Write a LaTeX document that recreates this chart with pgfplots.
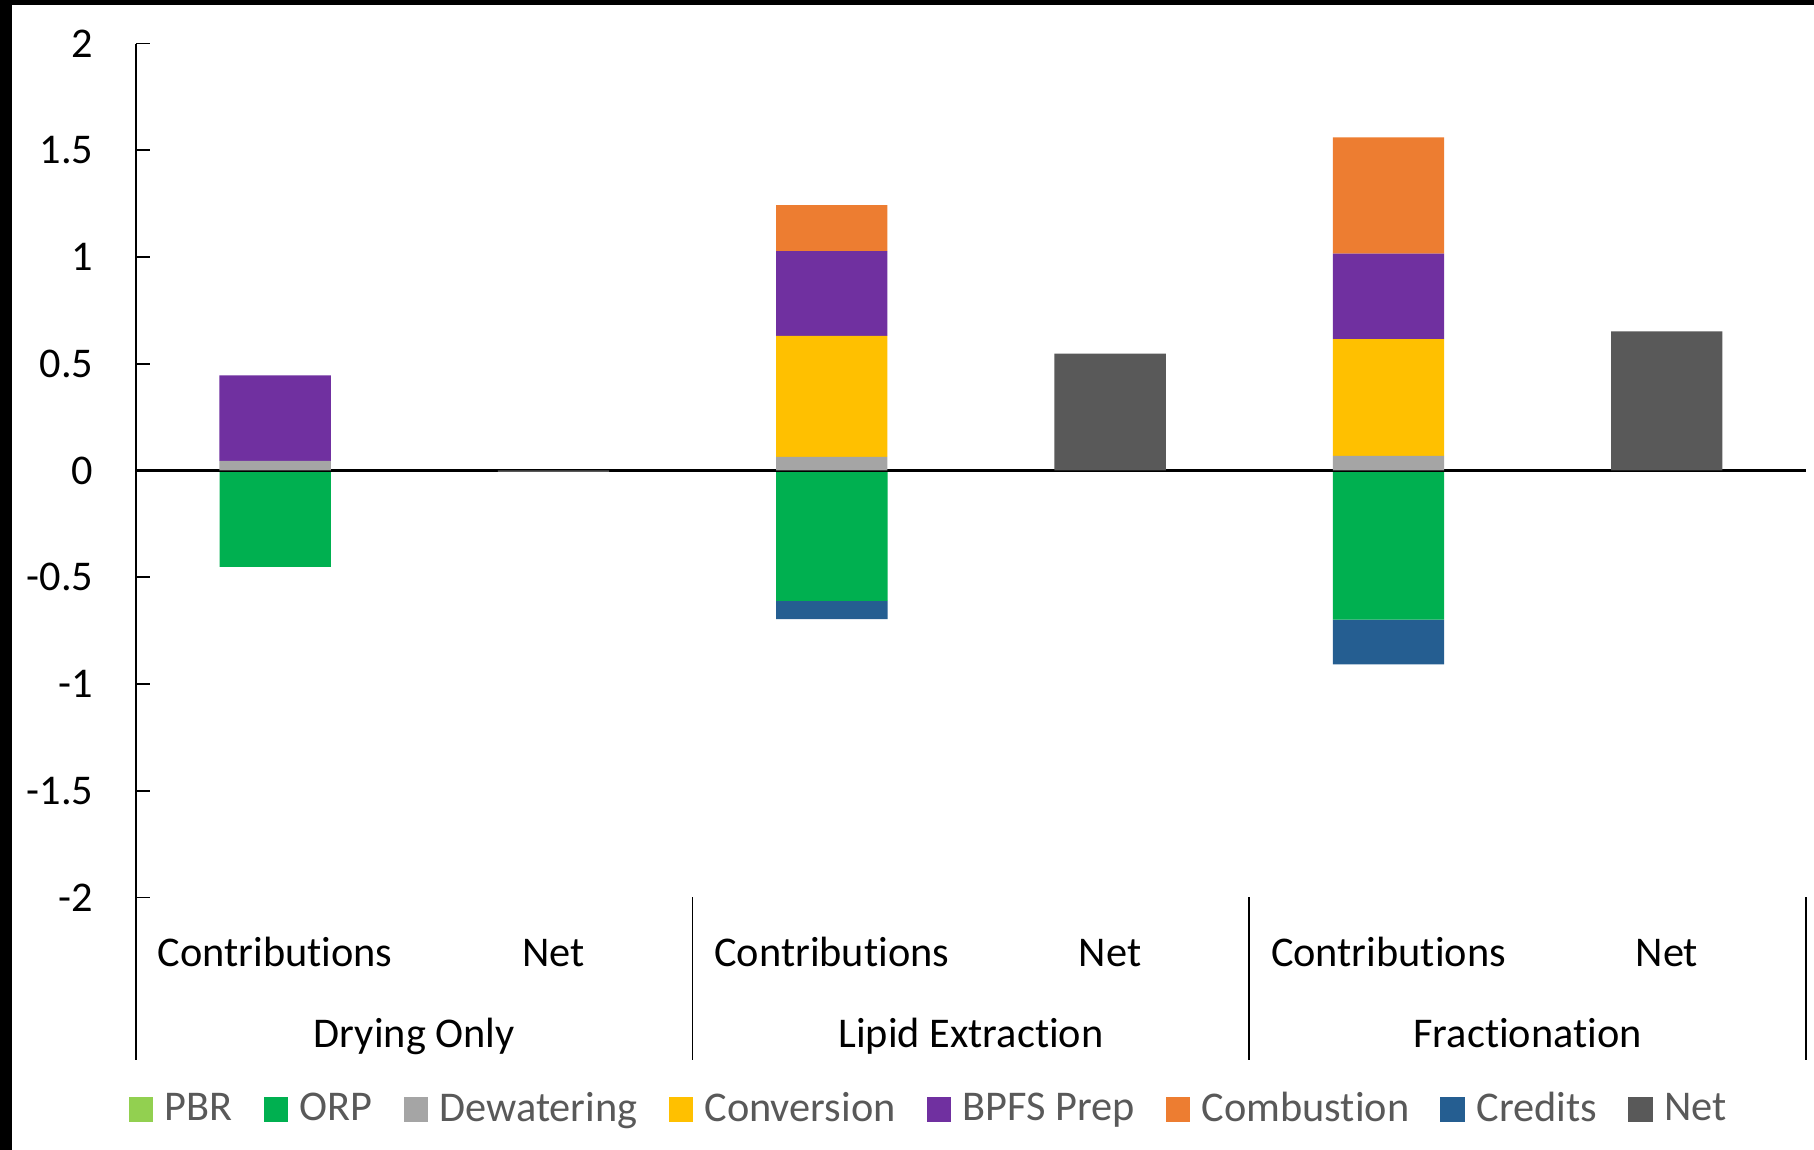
\documentclass[border=0pt]{standalone}
\usepackage{fontspec}
\setmainfont{Carlito}[Ligatures=NoCommon]
\usepackage{pgfplots}
\pgfplotsset{compat=1.18}

\definecolor{cPBR}{HTML}{92D050}
\definecolor{cORP}{HTML}{00B050}
\definecolor{cDew}{HTML}{A5A5A5}
\definecolor{cConv}{HTML}{FFC000}
\definecolor{cBPFS}{HTML}{7030A0}
\definecolor{cComb}{HTML}{ED7D31}
\definecolor{cCred}{HTML}{255E91}
\definecolor{cNet}{HTML}{595959}
\definecolor{legtext}{HTML}{595959}

\newcommand{\lbl}{\fontsize{12.7}{15}\selectfont}

% positions: 0/1 Drying Only, 2/3 Lipid Extraction, 4/5 Fractionation
% (contributions, net)
\pgfplotstableread{
x  Net    Dew   Conv  BPFS  Comb  ORP    Cred
0  0      0.045 0     0.400 0     -0.452 0
1  -0.006 0     0     0     0     0      0
2  0      0.064 0.566 0.397 0.216 -0.611 -0.085
3  0.547  0     0     0     0     0      0
4  0      0.069 0.546 0.401 0.544 -0.698 -0.210
5  0.652  0     0     0     0     0      0
}\gwp

\pgfplotsset{
  base/.style={
    scale only axis, width=501pt, height=256.2pt,
    at={(40.8pt,75.75pt)}, anchor=south west,
    xmin=-0.5, xmax=5.5, ymin=-2, ymax=2,
    clip=false,
  },
  bars/.style={base, ybar stacked, bar width=0.4},
}
\tikzset{cat/.style={anchor=base, font=\lbl, inner sep=0pt}}

\begin{document}
\begin{tikzpicture}
\useasboundingbox (0,0) rectangle (544.2pt,345pt);
\fill[white] (0,0) rectangle (544.2pt,345pt);
\fill[black] (0,0) rectangle (3.6pt,345pt);
\fill[black] (0,343.6pt) rectangle (544.2pt,345pt);

% negative contributions, stacked downward from zero
\begin{axis}[bars, hide axis]
  \addplot[fill=cORP, draw=none] table[x=x, y=ORP] {\gwp};
  \addplot[fill=cCred, draw=none] table[x=x, y=Cred] {\gwp};
\end{axis}

% positive contributions and net bars, with the axes
\begin{axis}[bars,
  axis x line=none,
  axis y line=left,
  y axis line style={-, line width=0.5pt},
  ytick={-2,-1.5,...,2},
  yticklabels={-2,-1.5,-1,-0.5,0,0.5,1,1.5,2},
  tick align=inside,
  major tick length=4.2pt,
  ytick style={line width=0.5pt, black},
  yticklabel style={font=\lbl, anchor=east, inner sep=0pt, xshift=-12.6pt},
]
  \addplot[fill=cNet, draw=none] table[x=x, y=Net] {\gwp};
  \addplot[fill=cDew, draw=none] table[x=x, y=Dew] {\gwp};
  \addplot[fill=cConv, draw=none] table[x=x, y=Conv] {\gwp};
  \addplot[fill=cBPFS, draw=none] table[x=x, y=BPFS] {\gwp};
  \addplot[fill=cComb, draw=none] table[x=x, y=Comb] {\gwp};

  \draw[line width=0.7pt] (axis cs:-0.5,0) -- (axis cs:5.5,0);
  \draw[line width=0.5pt] (axis cs:-0.5,-2) -- (axis cs:-0.5,-2.76);
  \draw[line width=0.5pt] (axis cs:1.5,-2) -- (axis cs:1.5,-2.76);
  \draw[line width=0.5pt] (axis cs:3.5,-2) -- (axis cs:3.5,-2.76);
  \draw[line width=0.5pt] (axis cs:5.5,-2) -- (axis cs:5.5,-2.76);

  \node[cat] at (axis cs:0,-2.322) {Contributions};
  \node[cat] at (axis cs:1,-2.322) {Net};
  \node[cat] at (axis cs:2,-2.322) {Contributions};
  \node[cat] at (axis cs:3,-2.322) {Net};
  \node[cat] at (axis cs:4,-2.322) {Contributions};
  \node[cat] at (axis cs:5,-2.322) {Net};
  \node[cat] at (axis cs:0.5,-2.704) {Drying Only};
  \node[cat] at (axis cs:2.5,-2.704) {Lipid Extraction};
  \node[cat] at (axis cs:4.5,-2.704) {Fractionation};
\end{axis}

% legend
\begin{axis}[base, hide axis,
  legend columns=-1,
  legend style={at={(0.476,-0.2484)}, anchor=center, draw=none, fill=none,
    font=\lbl, text=legtext, inner sep=0pt,
    /tikz/every odd column/.append style={column sep=1.4pt},
    /tikz/every even column/.append style={column sep=7.3pt}},
  legend image code/.code={\fill[#1] (0pt,-3.5pt) rectangle (7pt,3.5pt);},
]
  \addlegendimage{cPBR}
  \addlegendimage{cORP}
  \addlegendimage{cDew}
  \addlegendimage{cConv}
  \addlegendimage{cBPFS}
  \addlegendimage{cComb}
  \addlegendimage{cCred}
  \addlegendimage{cNet}
  \legend{PBR, ORP, Dewatering, Conversion, BPFS Prep, Combustion, Credits, Net}
\end{axis}
\end{tikzpicture}
\end{document}
